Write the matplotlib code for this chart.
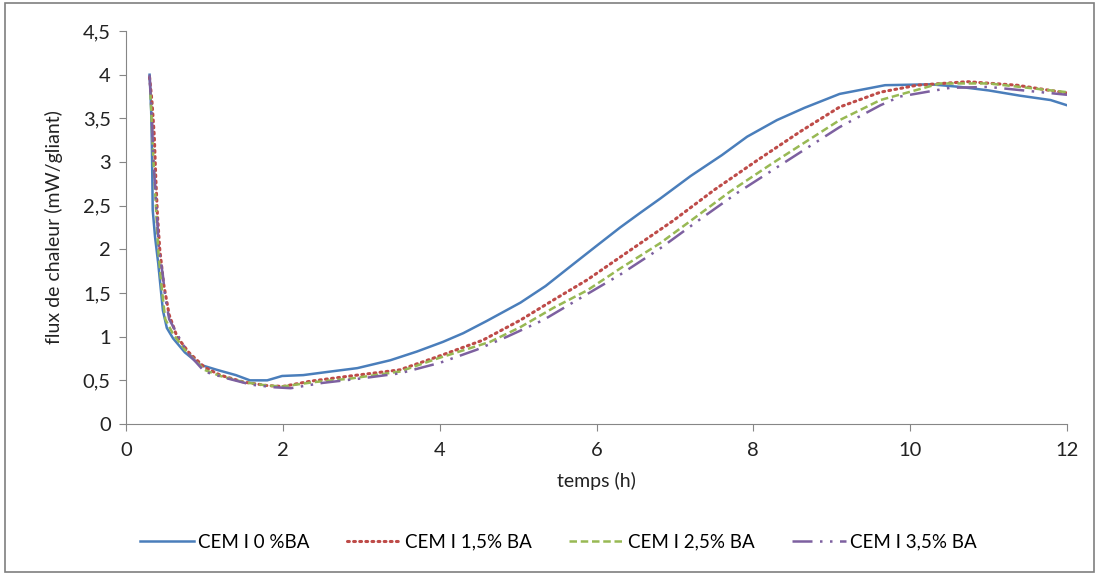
import numpy as np
import matplotlib.pyplot as plt
from matplotlib.patches import Rectangle

plt.rcParams['font.family'] = ['Lato', 'DejaVu Sans']

# CEM I 0 %BA
t0 = [0.30, 0.32, 0.33, 0.34, 0.37, 0.41, 0.47, 0.52, 0.60, 0.75, 0.94, 1.16, 1.40, 1.58, 1.80, 1.99,
      2.26, 2.60, 2.95, 3.37, 3.71, 4.04, 4.30, 4.60, 5.03, 5.35, 5.66, 6.00, 6.30, 6.56, 6.81, 7.20,
      7.60, 7.92, 8.30, 8.65, 9.10, 9.68, 10.26, 10.64, 11.00, 11.40, 11.79, 12.00]
q0 = [4.00, 3.60, 3.17, 2.45, 2.14, 1.84, 1.30, 1.10, 0.98, 0.82, 0.68, 0.62, 0.56, 0.50, 0.50, 0.55,
      0.56, 0.60, 0.64, 0.73, 0.83, 0.94, 1.04, 1.18, 1.39, 1.58, 1.80, 2.04, 2.25, 2.42, 2.58, 2.84,
      3.08, 3.29, 3.48, 3.62, 3.78, 3.88, 3.89, 3.86, 3.82, 3.76, 3.71, 3.65]

# CEM I 1,5% BA
t1 = [0.30, 0.33, 0.36, 0.38, 0.40, 0.43, 0.48, 0.55, 0.65, 0.80, 1.00, 1.20, 1.50, 1.80, 2.00, 2.35,
      2.86, 3.49, 3.97, 4.55, 5.03, 5.45, 5.88, 6.30, 6.98, 7.50, 8.05, 8.60, 9.10, 9.62, 10.09,
      10.73, 11.36, 12.00]
q1 = [3.97, 3.70, 3.30, 2.80, 2.40, 2.00, 1.60, 1.25, 1.00, 0.82, 0.65, 0.56, 0.48, 0.44, 0.43, 0.49,
      0.55, 0.62, 0.77, 0.96, 1.19, 1.42, 1.65, 1.91, 2.33, 2.68, 3.02, 3.35, 3.63, 3.80, 3.88,
      3.92, 3.88, 3.79]

# CEM I 2,5% BA
t2 = [0.31, 0.33, 0.35, 0.38, 0.41, 0.45, 0.50, 0.60, 0.75, 1.00, 1.20, 1.50, 1.80, 2.00, 2.40, 2.86,
      3.49, 3.97, 4.64, 5.03, 5.45, 5.88, 6.30, 6.81, 7.19, 7.70, 8.25, 8.70, 9.10, 9.62, 10.38, 11.00,
      12.00]
q2 = [3.80, 3.40, 3.00, 2.50, 2.00, 1.60, 1.20, 1.03, 0.85, 0.62, 0.55, 0.48, 0.44, 0.43, 0.48, 0.52,
      0.60, 0.75, 0.94, 1.11, 1.33, 1.53, 1.78, 2.07, 2.32, 2.66, 2.99, 3.25, 3.48, 3.71, 3.90, 3.90,
      3.80]

# CEM I 3,5% BA
t3 = [0.30, 0.33, 0.35, 0.38, 0.42, 0.47, 0.50, 0.55, 0.70, 0.80, 1.00, 1.30, 1.60, 1.90, 2.10, 2.50,
      2.98, 3.49, 4.00, 4.47, 4.86, 5.32, 5.79, 6.30, 6.81, 7.36, 7.80, 8.25, 8.70, 9.10, 9.62, 9.87,
      10.51, 11.00, 12.00]
q3 = [4.00, 3.50, 3.00, 2.60, 2.00, 1.70, 1.45, 1.20, 0.95, 0.80, 0.60, 0.52, 0.45, 0.42, 0.41, 0.47,
      0.52, 0.58, 0.70, 0.85, 1.00, 1.19, 1.44, 1.71, 2.01, 2.37, 2.65, 2.91, 3.17, 3.40, 3.65, 3.75,
      3.85, 3.86, 3.77]

labels = ['CEM I 0 %BA', 'CEM I 1,5% BA', 'CEM I 2,5% BA', 'CEM I 3,5% BA']
xticks = [0, 2, 4, 6, 8, 10, 12]
yticks = [0, 0.5, 1, 1.5, 2, 2.5, 3, 3.5, 4, 4.5]
ytick_labels = ['0', '0,5', '1', '1,5', '2', '2,5', '3', '3,5', '4', '4,5']

fig = plt.figure(figsize=(10.99, 5.75), dpi=100)
ax = fig.add_axes([0.1147, 0.2626, 0.8562, 0.6834])

ax.plot(t0, q0, color='#4A7EBB', lw=1.8, ls='-', label=labels[0])
ax.plot(t1, q1, color='#BE4B48', lw=2.2, ls=(0, (0.6, 1.4)), dash_capstyle='round', label=labels[1])
ax.plot(t2, q2, color='#98B954', lw=1.8, ls=(0, (3, 1.5)), label=labels[2])
ax.plot(t3, q3, color='#7D60A0', lw=1.8, ls=(0, (8, 3, 1, 3, 1, 3)), label=labels[3])

ax.set_xlim(0, 12)
ax.set_ylim(0, 4.5)
ax.set_xticks(xticks)
ax.set_yticks(yticks)
ax.set_yticklabels(ytick_labels)
for s in ['top', 'right']:
    ax.spines[s].set_visible(False)
for s in ['left', 'bottom']:
    ax.spines[s].set_color('#868686')
ax.tick_params(axis='both', colors='#868686', labelcolor='#222222', labelsize=14.5, length=5, direction='out')
ax.tick_params(axis='x', pad=8)
ax.tick_params(axis='y', pad=6)
ax.set_xlabel('temps (h)', fontsize=14, color='#222222', labelpad=9)
ax.set_ylabel('flux de chaleur (mW/gliant)', fontsize=14, color='#222222', labelpad=14)

fig.legend(loc='center', bbox_to_anchor=(0.508, 0.057), ncol=4, frameon=False, fontsize=13.5,
           handlelength=2.9, columnspacing=2.0, handletextpad=0.2)

fig.add_artist(Rectangle((0.005, 0.005), 0.99, 0.99, transform=fig.transFigure,
                         fill=False, edgecolor='#7f7f7f', lw=1.2))

fig.savefig('out.png', dpi=100)
